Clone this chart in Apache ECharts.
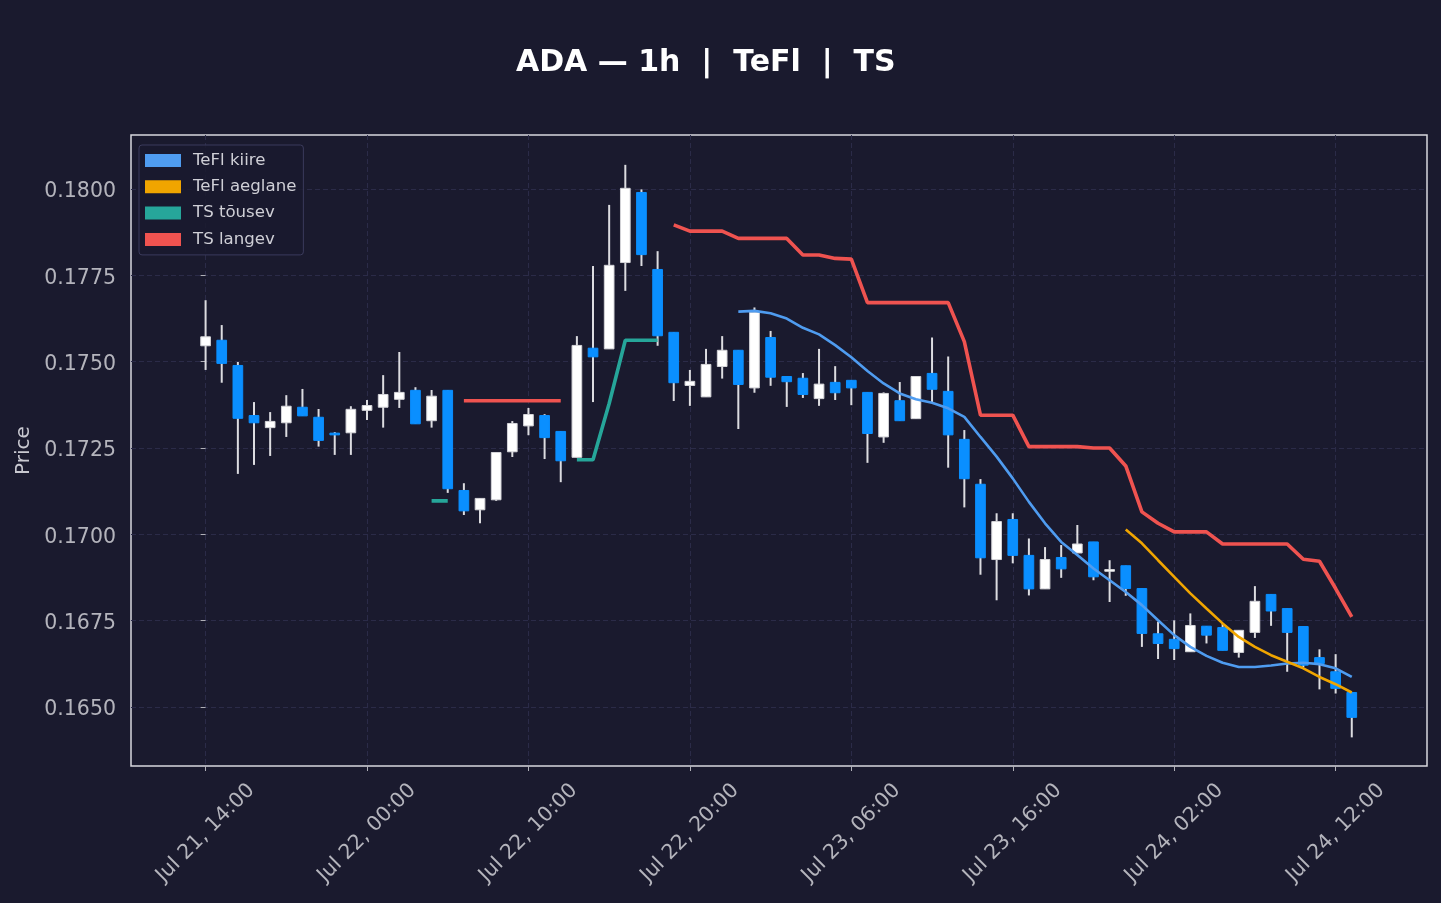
<!DOCTYPE html>
<html>
<head>
<meta charset="utf-8">
<title>ADA 1h</title>
<script src="https://cdn.jsdelivr.net/npm/echarts@6/dist/echarts.min.js"></script>
<style>
  html, body { margin: 0; padding: 0; background: #1a1a2e; }
  #main { width: 1441px; height: 903px; }
</style>
</head>
<body>
<div id="main"></div>
<script>
// hourly candles, index = hours since Jul 21 14:00
const opens = [
  .17546, .17562, .17489, .17344, .17309, .17323, .17368, .17339, .17293, .17294,
  .17359, .17368, .17391, .17417, .17329, .17417, .17127, .17071, .17100, .17239,
  .17314, .17344, .17298, .17223, .17539, .17537, .17787, .17990, .17767, .17585,
  .17431, .17398, .17486, .17533, .17424, .17570, .17457, .17452, .17393, .17440,
  .17446, .17411, .17282, .17387, .17335, .17466, .17414, .17275, .17145, .16927,
  .17043, .16939, .16842, .16933, .16946, .16978, .16893, .16909, .16843, .16712,
  .16696, .16660, .16734, .16730, .16658, .16716, .16826, .16785, .16733, .16643,
  .16602, .16542
];
const closes = [
  .17572, .17495, .17336, .17323, .17327, .17371, .17343, .17272, .17288, .17362,
  .17373, .17405, .17411, .17320, .17400, .17132, .17068, .17104, .17237, .17321,
  .17347, .17280, .17213, .17547, .17514, .17779, .18002, .17810, .17575, .17439,
  .17443, .17492, .17533, .17434, .17643, .17455, .17442, .17405, .17435, .17410,
  .17424, .17292, .17408, .17329, .17457, .17420, .17288, .17161, .16932, .17037,
  .16939, .16842, .16927, .16900, .16972, .16877, .16898, .16843, .16713, .16684,
  .16669, .16736, .16708, .16664, .16722, .16806, .16778, .16716, .16621, .16626,
  .16554, .16470
];
const lows = [
  .17476, .17439, .17175, .17201, .17227, .17282, .17343, .17254, .17230, .17230,
  .17331, .17309, .17366, .17320, .17309, .17120, .17056, .17032, .17097, .17224,
  .17287, .17218, .17151, .17223, .17383, .17537, .17705, .17777, .17546, .17386,
  .17372, .17398, .17451, .17305, .17410, .17430, .17369, .17395, .17372, .17389,
  .17374, .17207, .17265, .17329, .17335, .17381, .17193, .17078, .16883, .16809,
  .16916, .16823, .16842, .16874, .16946, .16867, .16804, .16822, .16674, .16639,
  .16636, .16660, .16684, .16664, .16643, .16700, .16735, .16602, .16615, .16551,
  .16539, .16412
];
const highs = [
  .17678, .17606, .17499, .17383, .17354, .17403, .17421, .17363, .17296, .17371,
  .17389, .17461, .17528, .17426, .17418, .17418, .17148, .17104, .17237, .17328,
  .17366, .17348, .17298, .17574, .17777, .17954, .18070, .17999, .17820, .17585,
  .17476, .17537, .17574, .17533, .17657, .17589, .17457, .17467, .17537, .17487,
  .17446, .17411, .17411, .17441, .17457, .17570, .17515, .17302, .17160, .17061,
  .17061, .16988, .16963, .16969, .17027, .16978, .16925, .16909, .16843, .16747,
  .16751, .16771, .16734, .16742, .16722, .16850, .16826, .16785, .16733, .16667,
  .16653, .16542
];

// indicator lines (null = not drawn)
const teflFast = [
  null, null, null, null, null, null, null, null, null, null, null, null,
  null, null, null, null, null, null, null, null, null, null, null, null,
  null, null, null, null, null, null, null, null, null, .17645, .17647, .17640,
  .17625, .17598, .17579, .17548, .17513, .17473, .17437, .17408, .17391, .17381, .17365, .17340,
  .17282, .17225, .17162, .17094, .17032, .16978, .16940, .16901, .16867, .16833, .16795, .16751,
  .16708, .16674, .16648, .16628, .16616, .16616, .16620, .16626, .16628, .16624, .16612, .16587
];
const teflSlow = [
  null, null, null, null, null, null, null, null, null, null, null, null,
  null, null, null, null, null, null, null, null, null, null, null, null,
  null, null, null, null, null, null, null, null, null, null, null, null,
  null, null, null, null, null, null, null, null, null, null, null, null,
  null, null, null, null, null, null, null, null, null, .17014, .16974, .16925,
  .16877, .16829, .16785, .16742, .16703, .16674, .16650, .16631, .16612, .16587, .16566, .16542
];
const tsUp = [
  null, null, null, null, null, null, null, null, null, null, null, null,
  null, null, .17097, .17097, null, null, null, null, null, null, null, .17216,
  .17216, .17379, .17562, .17562, .17562, null, null, null, null, null, null, null,
  null, null, null, null, null, null, null, null, null, null, null, null,
  null, null, null, null, null, null, null, null, null, null, null, null,
  null, null, null, null, null, null, null, null, null, null, null, null
];
const tsDown = [
  null, null, null, null, null, null, null, null, null, null, null, null,
  null, null, null, null, .17387, .17387, .17387, .17387, .17387, .17387, .17387, null,
  null, null, null, null, null, .17896, .17878, .17878, .17878, .17857, .17857, .17857,
  .17857, .17809, .17809, .17799, .17797, .17671, .17671, .17671, .17671, .17671, .17671, .17558,
  .17345, .17345, .17345, .17254, .17254, .17254, .17254, .17250, .17250, .17198, .17065, .17032,
  .17007, .17007, .17007, .16972, .16972, .16972, .16972, .16972, .16928, .16922, .16843, .16761
];

const xTickHours = [0, 10, 20, 30, 40, 50, 60, 70];
const xTickLabels = ['Jul 21, 14:00', 'Jul 22, 00:00', 'Jul 22, 10:00', 'Jul 22, 20:00',
  'Jul 23, 06:00', 'Jul 23, 16:00', 'Jul 24, 02:00', 'Jul 24, 12:00'];
const yTicks = [0.1650, 0.1675, 0.1700, 0.1725, 0.1750, 0.1775, 0.1800];

const BG = '#1a1a2e';
const UP = '#ffffff';
const DOWN = '#0a8fff';
const WICK = '#dcdce0';
const FONT = 'DejaVu Sans';

const candles = opens.map((o, i) => [i, o, closes[i], lows[i], highs[i]]);
const toLine = arr => arr.map((v, i) => [i, v]);

function renderCandle(params, api) {
  const x = api.value(0);
  const o = api.value(1), c = api.value(2);
  const pTop = api.coord([x, Math.max(o, c)]);
  const pBot = api.coord([x, Math.min(o, c)]);
  const pLo = api.coord([x, api.value(3)]);
  const pHi = api.coord([x, api.value(4)]);
  const w = api.size([0.6, 0])[0];
  const up = c >= o;
  return {
    type: 'group',
    children: [
      {
        type: 'line',
        shape: { x1: pHi[0], y1: pHi[1], x2: pLo[0], y2: pLo[1] },
        style: { stroke: WICK, lineWidth: 2 }
      },
      {
        type: 'rect',
        shape: { x: pTop[0] - w / 2, y: pTop[1], width: w, height: Math.max(pBot[1] - pTop[1], 1.5) },
        style: { fill: up ? UP : DOWN, stroke: up ? '#d4d4d8' : DOWN, lineWidth: 1 }
      }
    ]
  };
}

const lineSeries = (name, arr, color, width) => ({
  name: name,
  type: 'line',
  data: toLine(arr),
  showSymbol: false,
  connectNulls: false,
  lineStyle: { color: color, width: width },
  itemStyle: { color: color },
  emphasis: { disabled: true },
  z: 3
});

const chart = echarts.init(document.getElementById('main'));
chart.setOption({
  backgroundColor: BG,
  animation: false,
  title: {
    text: 'ADA \u2014 1h  |  TeFl  |  TS',
    left: 516,
    top: 48,
    padding: 0,
    textStyle: { color: '#ffffff', fontSize: 30, fontWeight: 'bold', fontFamily: FONT }
  },
  legend: {
    left: 139,
    top: 145,
    orient: 'vertical',
    icon: 'rect',
    itemWidth: 36,
    itemHeight: 13,
    itemGap: 8.3,
    padding: [6.5, 7, 6.5, 6],
    borderColor: '#3b3b5c',
    borderWidth: 1,
    borderRadius: 3,
    backgroundColor: 'rgba(26,26,46,0.85)',
    textStyle: { color: '#cfcfd6', fontSize: 16.6, fontFamily: FONT, lineHeight: 18, padding: [0, 0, 0, 7] },
    data: ['TeFl kiire', 'TeFl aeglane', 'TS t\u00f5usev', 'TS langev']
  },
  grid: {
    left: 131, top: 135, right: 14, bottom: 137,
    show: true,
    borderColor: '#d8d8de',
    borderWidth: 1.5,
    backgroundColor: 'transparent',
    outerBoundsMode: 'none'
  },
  xAxis: {
    type: 'value',
    min: -4.62,
    max: 75.66,
    axisLine: { show: false },
    axisTick: { show: true, length: 5, lineStyle: { color: '#b0b0b8' }, customValues: xTickHours },
    axisLabel: {
      customValues: xTickHours,
      rotate: 45,
      align: 'center',
      verticalAlign: 'middle',
      margin: 67,
      color: '#b4b4bc',
      fontSize: 20.5,
      fontFamily: FONT,
      formatter: v => xTickLabels[xTickHours.indexOf(Math.round(v))]
    },
    splitLine: { show: true, lineStyle: { color: '#2b2b48', type: [5, 3], width: 1 } }
  },
  yAxis: {
    type: 'value',
    min: 0.163291,
    max: 0.181564,
    name: 'Price',
    nameLocation: 'middle',
    nameGap: 95,
    nameRotate: 90,
    nameTextStyle: { color: '#c8c8d0', fontSize: 20, fontFamily: FONT },
    axisLine: { show: false },
    axisTick: { show: true, length: 5, lineStyle: { color: '#b0b0b8' }, customValues: yTicks },
    axisLabel: {
      customValues: yTicks,
      margin: 15,
      verticalAlign: 'top',
      lineHeight: 6,
      color: '#b4b4bc',
      fontSize: 20.5,
      fontFamily: FONT,
      formatter: v => v.toFixed(4)
    },
    splitLine: { show: true, lineStyle: { color: '#2b2b48', type: [5, 3], width: 1 } }
  },
  series: [
    {
      name: 'candles',
      type: 'custom',
      renderItem: renderCandle,
      data: candles,
      encode: { x: 0, y: [1, 2, 3, 4] },
      z: 2
    },
    lineSeries('TeFl kiire', teflFast, '#4f9cf0', 2.6),
    lineSeries('TeFl aeglane', teflSlow, '#f0a500', 2.6),
    lineSeries('TS t\u00f5usev', tsUp, '#26a69a', 3.6),
    lineSeries('TS langev', tsDown, '#ef5350', 3.6)
  ]
});
</script>
</body>
</html>
